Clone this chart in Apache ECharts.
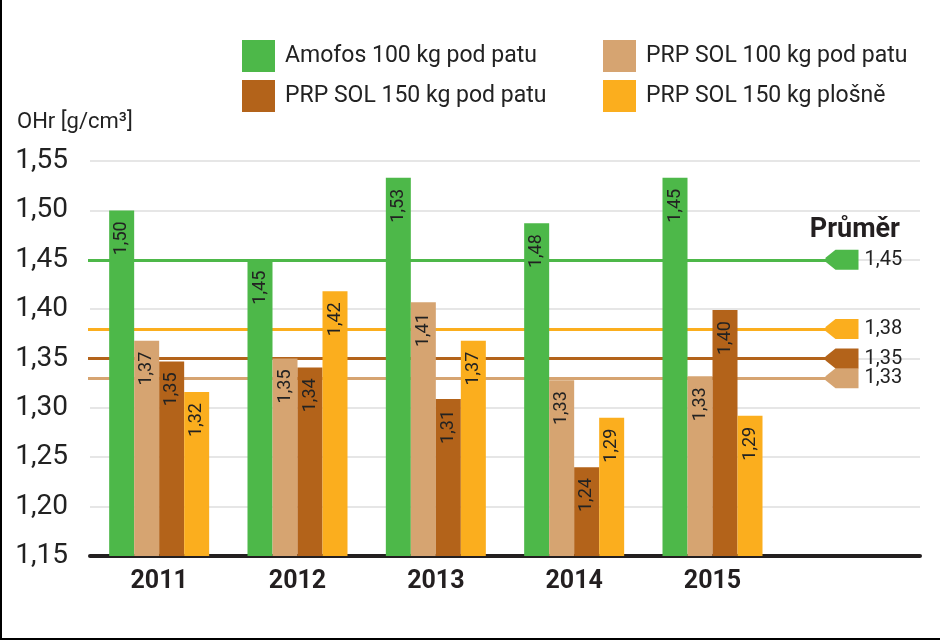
<!DOCTYPE html>
<html><head><meta charset="utf-8">
<script src="https://cdn.jsdelivr.net/npm/echarts@6/dist/echarts.min.js"></script>
<style>
html,body{margin:0;padding:0;background:#fff}
#c{position:absolute;left:0;top:0;width:940px;height:640px}
#b{position:absolute;left:0;top:0;width:940px;height:640px;box-sizing:border-box;border-left:2px solid #000;border-bottom:2px solid #000;pointer-events:none}
</style>
</head><body><div id="c"></div><div id="b"></div>
<script>
// ---- data ----
const years = ['2011', '2012', '2013', '2014', '2015'];
const categories = years.concat(['']); // extra empty slot for the "Průměr" column
const seriesNames = ['Amofos 100 kg pod patu', 'PRP SOL 100 kg pod patu', 'PRP SOL 150 kg pod patu', 'PRP SOL 150 kg plošně'];
const amofos = [1.500, 1.450, 1.533, 1.487, 1.533];
const amofosLabels = ['1,50', '1,45', '1,53', '1,48', '1,45'];
const sol100 = [1.368, 1.350, 1.407, 1.328, 1.332];
const sol100Labels = ['1,37', '1,35', '1,41', '1,33', '1,33'];
const sol150 = [1.347, 1.341, 1.309, 1.240, 1.399];
const sol150Labels = ['1,35', '1,34', '1,31', '1,24', '1,40'];
const plosne = [1.316, 1.418, 1.368, 1.290, 1.292];
const plosneLabels = ['1,32', '1,42', '1,37', '1,29', '1,29'];
const averages = [1.45, 1.33, 1.35, 1.38];
const averageLabels = ['1,45', '1,33', '1,35', '1,38'];
const yMin = 1.15, yMax = 1.55, yStep = 0.05;
const yAxisTitle = 'OHr [g/cm³]';
const averageTitle = 'Průměr';

// ---- styles ----
const colors = ['#4db849', '#d6a471', '#b3631a', '#fbae1e'];
const FONT = 'Roboto, "DejaVu Sans", sans-serif';
const TXT = '#231f20';

const values = [amofos, sol100, sol150, plosne];
const labels = [amofosLabels, sol100Labels, sol150Labels, plosneLabels];

const series = seriesNames.map((name, i) => ({
  name: name,
  type: 'bar',
  z: 2,
  barWidth: 25,
  barGap: '0%',
  itemStyle: { color: colors[i] },
  data: values[i],
  label: {
    show: true,
    position: 'insideTop',
    distance: 11,
    rotate: 90,
    align: 'right',
    verticalAlign: 'middle',
    fontFamily: FONT,
    fontSize: 18,
    color: '#222',
    formatter: p => labels[i][p.dataIndex]
  },
  markLine: {
    silent: true,
    z: 1,
    symbol: ['none', 'none'],
    label: { show: false },
    lineStyle: { color: colors[i], width: 3, type: 'solid' },
    emphasis: { disabled: true },
    data: [[{ yAxis: averages[i], x: 88 }, { yAxis: averages[i], x: 828 }]]
  },
  markPoint: {
    silent: true,
    symbol: 'path://M0,8 L10,0 L33,0 L33,20 L10,20 L0,12 Z',
    symbolSize: [33, 20],
    itemStyle: { color: colors[i] },
    label: {
      show: true,
      position: 'right',
      distance: 6,
      fontFamily: FONT,
      fontSize: 20,
      color: '#222',
      formatter: () => averageLabels[i]
    },
    data: [{ yAxis: averages[i], x: 842 }]
  }
}));

const legendBase = {
  orient: 'vertical', top: 35,
  icon: 'rect', itemWidth: 33, itemHeight: 32, itemGap: 8,
  selectedMode: false,
  textStyle: { fontFamily: FONT, fontSize: 23, color: '#222', padding: [0, 0, 0, 5] }
};

const chart = echarts.init(document.getElementById('c'), null, { renderer: 'canvas' });
chart.setOption({
  animation: false,
  backgroundColor: '#fff',
  grid: { left: 90, right: 20, top: 161, bottom: 84, containLabel: false },
  legend: [
    Object.assign({}, legendBase, { data: [seriesNames[0], seriesNames[2]], left: 237 }),
    Object.assign({}, legendBase, { data: [seriesNames[1], seriesNames[3]], left: 598 })
  ],
  graphic: [
    { type: 'text', left: 17, top: 111, style: { text: yAxisTitle, fontFamily: FONT, fontSize: 22, fill: '#222' } },
    { type: 'text', right: 40, top: 217, style: { text: averageTitle, fontFamily: FONT, fontSize: 27, fontWeight: 'bold', fill: TXT } }
  ],
  xAxis: {
    type: 'category',
    data: categories,
    axisLine: { lineStyle: { color: TXT, width: 4 } },
    axisTick: { show: false },
    axisLabel: { fontFamily: FONT, fontSize: 25, fontWeight: 'bold', color: TXT, margin: 13 }
  },
  yAxis: {
    type: 'value',
    min: yMin, max: yMax, interval: yStep,
    axisLine: { show: false },
    axisTick: { show: false },
    splitLine: { lineStyle: { color: '#e6e6e6', width: 2 } },
    axisLabel: {
      fontFamily: FONT, fontSize: 28, color: '#222', margin: 22,
      formatter: v => v.toFixed(2).replace('.', ',')
    }
  },
  series: series
});
</script>
</body></html>
